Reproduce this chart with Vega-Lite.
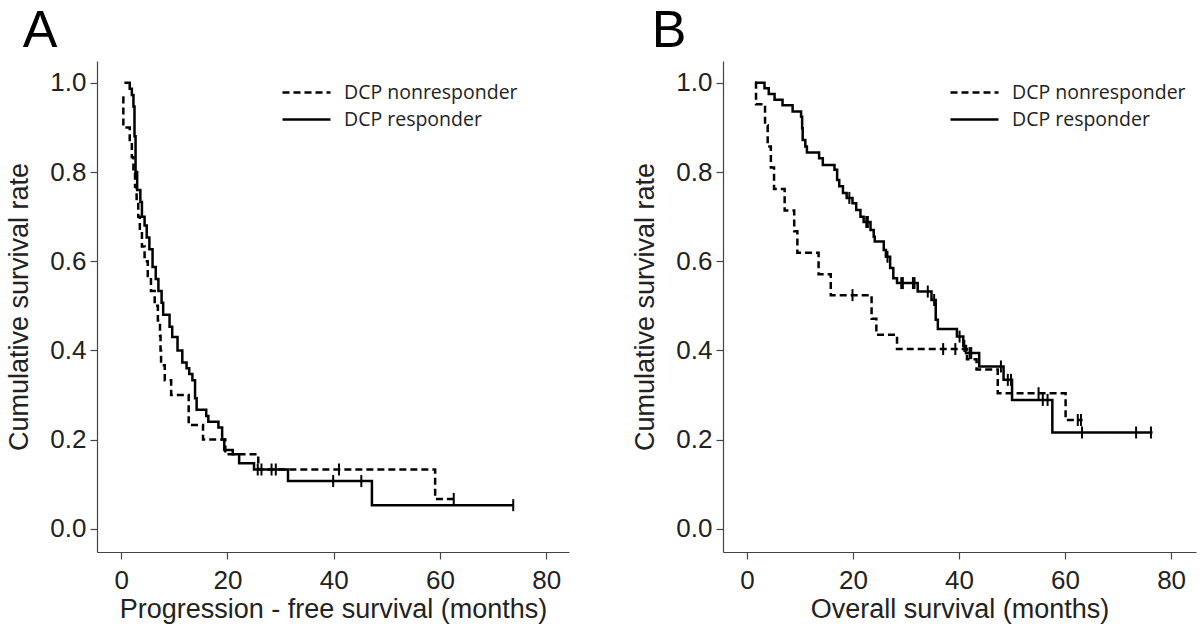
{
  "$schema": "https://vega.github.io/schema/vega-lite/v6.json",
  "background": "white",
  "padding": {"left": 5, "top": 5, "right": 5, "bottom": 5},
  "datasets": {
    "curves": [
      {"panel":"A","group":"DCP responder","t":0.6,"s":1.0},
      {"panel":"A","group":"DCP responder","t":1.6,"s":0.987},
      {"panel":"A","group":"DCP responder","t":2.0,"s":0.973},
      {"panel":"A","group":"DCP responder","t":2.3,"s":0.947},
      {"panel":"A","group":"DCP responder","t":2.5,"s":0.88},
      {"panel":"A","group":"DCP responder","t":2.7,"s":0.8},
      {"panel":"A","group":"DCP responder","t":3.0,"s":0.76},
      {"panel":"A","group":"DCP responder","t":3.6,"s":0.733},
      {"panel":"A","group":"DCP responder","t":3.9,"s":0.70},
      {"panel":"A","group":"DCP responder","t":4.4,"s":0.68},
      {"panel":"A","group":"DCP responder","t":4.8,"s":0.653},
      {"panel":"A","group":"DCP responder","t":5.3,"s":0.627},
      {"panel":"A","group":"DCP responder","t":5.9,"s":0.587},
      {"panel":"A","group":"DCP responder","t":6.5,"s":0.56},
      {"panel":"A","group":"DCP responder","t":7.0,"s":0.533},
      {"panel":"A","group":"DCP responder","t":7.6,"s":0.507},
      {"panel":"A","group":"DCP responder","t":7.9,"s":0.48},
      {"panel":"A","group":"DCP responder","t":9.1,"s":0.453},
      {"panel":"A","group":"DCP responder","t":9.6,"s":0.43},
      {"panel":"A","group":"DCP responder","t":10.6,"s":0.40},
      {"panel":"A","group":"DCP responder","t":11.5,"s":0.373},
      {"panel":"A","group":"DCP responder","t":12.3,"s":0.36},
      {"panel":"A","group":"DCP responder","t":12.8,"s":0.347},
      {"panel":"A","group":"DCP responder","t":13.4,"s":0.333},
      {"panel":"A","group":"DCP responder","t":13.9,"s":0.293},
      {"panel":"A","group":"DCP responder","t":14.2,"s":0.267},
      {"panel":"A","group":"DCP responder","t":16.0,"s":0.253},
      {"panel":"A","group":"DCP responder","t":16.4,"s":0.24},
      {"panel":"A","group":"DCP responder","t":18.3,"s":0.227},
      {"panel":"A","group":"DCP responder","t":19.0,"s":0.2},
      {"panel":"A","group":"DCP responder","t":19.4,"s":0.177},
      {"panel":"A","group":"DCP responder","t":21.0,"s":0.167},
      {"panel":"A","group":"DCP responder","t":22.2,"s":0.147},
      {"panel":"A","group":"DCP responder","t":25.0,"s":0.133},
      {"panel":"A","group":"DCP responder","t":31.4,"s":0.107},
      {"panel":"A","group":"DCP responder","t":47.2,"s":0.053},
      {"panel":"A","group":"DCP responder","t":73.8,"s":0.053},

      {"panel":"A","group":"DCP nonresponder","t":0.2,"s":0.967},
      {"panel":"A","group":"DCP nonresponder","t":0.4,"s":0.9},
      {"panel":"A","group":"DCP nonresponder","t":1.6,"s":0.867},
      {"panel":"A","group":"DCP nonresponder","t":2.0,"s":0.833},
      {"panel":"A","group":"DCP nonresponder","t":2.3,"s":0.8},
      {"panel":"A","group":"DCP nonresponder","t":2.6,"s":0.767},
      {"panel":"A","group":"DCP nonresponder","t":2.9,"s":0.733},
      {"panel":"A","group":"DCP nonresponder","t":3.2,"s":0.7},
      {"panel":"A","group":"DCP nonresponder","t":3.5,"s":0.667},
      {"panel":"A","group":"DCP nonresponder","t":3.9,"s":0.633},
      {"panel":"A","group":"DCP nonresponder","t":4.4,"s":0.6},
      {"panel":"A","group":"DCP nonresponder","t":5.0,"s":0.567},
      {"panel":"A","group":"DCP nonresponder","t":5.6,"s":0.533},
      {"panel":"A","group":"DCP nonresponder","t":6.3,"s":0.5},
      {"panel":"A","group":"DCP nonresponder","t":6.9,"s":0.467},
      {"panel":"A","group":"DCP nonresponder","t":7.3,"s":0.433},
      {"panel":"A","group":"DCP nonresponder","t":7.4,"s":0.4},
      {"panel":"A","group":"DCP nonresponder","t":7.5,"s":0.367},
      {"panel":"A","group":"DCP nonresponder","t":8.2,"s":0.333},
      {"panel":"A","group":"DCP nonresponder","t":9.4,"s":0.3},
      {"panel":"A","group":"DCP nonresponder","t":12.7,"s":0.233},
      {"panel":"A","group":"DCP nonresponder","t":15.4,"s":0.2},
      {"panel":"A","group":"DCP nonresponder","t":19.6,"s":0.167},
      {"panel":"A","group":"DCP nonresponder","t":25.8,"s":0.133},
      {"panel":"A","group":"DCP nonresponder","t":59.1,"s":0.067},
      {"panel":"A","group":"DCP nonresponder","t":62.6,"s":0.067},

      {"panel":"B","group":"DCP responder","t":1.5,"s":1.0},
      {"panel":"B","group":"DCP responder","t":3.3,"s":0.988},
      {"panel":"B","group":"DCP responder","t":4.1,"s":0.975},
      {"panel":"B","group":"DCP responder","t":5.2,"s":0.962},
      {"panel":"B","group":"DCP responder","t":6.7,"s":0.95},
      {"panel":"B","group":"DCP responder","t":8.6,"s":0.936},
      {"panel":"B","group":"DCP responder","t":10.2,"s":0.924},
      {"panel":"B","group":"DCP responder","t":10.4,"s":0.898},
      {"panel":"B","group":"DCP responder","t":10.5,"s":0.872},
      {"panel":"B","group":"DCP responder","t":11.0,"s":0.857},
      {"panel":"B","group":"DCP responder","t":11.3,"s":0.844},
      {"panel":"B","group":"DCP responder","t":13.6,"s":0.831},
      {"panel":"B","group":"DCP responder","t":14.3,"s":0.816},
      {"panel":"B","group":"DCP responder","t":16.5,"s":0.805},
      {"panel":"B","group":"DCP responder","t":17.0,"s":0.782},
      {"panel":"B","group":"DCP responder","t":17.4,"s":0.768},
      {"panel":"B","group":"DCP responder","t":18.1,"s":0.753},
      {"panel":"B","group":"DCP responder","t":18.8,"s":0.742},
      {"panel":"B","group":"DCP responder","t":19.9,"s":0.73},
      {"panel":"B","group":"DCP responder","t":20.6,"s":0.715},
      {"panel":"B","group":"DCP responder","t":21.4,"s":0.70},
      {"panel":"B","group":"DCP responder","t":22.0,"s":0.688},
      {"panel":"B","group":"DCP responder","t":23.3,"s":0.67},
      {"panel":"B","group":"DCP responder","t":23.9,"s":0.655},
      {"panel":"B","group":"DCP responder","t":24.1,"s":0.644},
      {"panel":"B","group":"DCP responder","t":25.8,"s":0.625},
      {"panel":"B","group":"DCP responder","t":26.2,"s":0.61},
      {"panel":"B","group":"DCP responder","t":27.0,"s":0.585},
      {"panel":"B","group":"DCP responder","t":27.6,"s":0.562},
      {"panel":"B","group":"DCP responder","t":28.3,"s":0.551},
      {"panel":"B","group":"DCP responder","t":32.2,"s":0.532},
      {"panel":"B","group":"DCP responder","t":34.8,"s":0.513},
      {"panel":"B","group":"DCP responder","t":35.6,"s":0.469},
      {"panel":"B","group":"DCP responder","t":36.0,"s":0.448},
      {"panel":"B","group":"DCP responder","t":39.6,"s":0.431},
      {"panel":"B","group":"DCP responder","t":40.8,"s":0.41},
      {"panel":"B","group":"DCP responder","t":41.3,"s":0.394},
      {"panel":"B","group":"DCP responder","t":43.8,"s":0.364},
      {"panel":"B","group":"DCP responder","t":48.4,"s":0.334},
      {"panel":"B","group":"DCP responder","t":50.0,"s":0.289},
      {"panel":"B","group":"DCP responder","t":57.6,"s":0.216},
      {"panel":"B","group":"DCP responder","t":76.5,"s":0.216},

      {"panel":"B","group":"DCP nonresponder","t":1.5,"s":1.0},
      {"panel":"B","group":"DCP nonresponder","t":1.7,"s":0.952},
      {"panel":"B","group":"DCP nonresponder","t":3.4,"s":0.905},
      {"panel":"B","group":"DCP nonresponder","t":3.9,"s":0.857},
      {"panel":"B","group":"DCP nonresponder","t":4.5,"s":0.81},
      {"panel":"B","group":"DCP nonresponder","t":5.1,"s":0.762},
      {"panel":"B","group":"DCP nonresponder","t":7.1,"s":0.714},
      {"panel":"B","group":"DCP nonresponder","t":8.9,"s":0.667},
      {"panel":"B","group":"DCP nonresponder","t":9.5,"s":0.619},
      {"panel":"B","group":"DCP nonresponder","t":13.5,"s":0.571},
      {"panel":"B","group":"DCP nonresponder","t":15.8,"s":0.524},
      {"panel":"B","group":"DCP nonresponder","t":23.5,"s":0.471},
      {"panel":"B","group":"DCP nonresponder","t":24.4,"s":0.435},
      {"panel":"B","group":"DCP nonresponder","t":28.3,"s":0.403},
      {"panel":"B","group":"DCP nonresponder","t":41.5,"s":0.38},
      {"panel":"B","group":"DCP nonresponder","t":43.3,"s":0.357},
      {"panel":"B","group":"DCP nonresponder","t":47.3,"s":0.304},
      {"panel":"B","group":"DCP nonresponder","t":60.1,"s":0.244},
      {"panel":"B","group":"DCP nonresponder","t":63.3,"s":0.244}
    ],
    "censors": [
      {"panel":"A","group":"DCP responder","t":25.7,"s":0.133},
      {"panel":"A","group":"DCP responder","t":26.4,"s":0.133},
      {"panel":"A","group":"DCP responder","t":28.3,"s":0.133},
      {"panel":"A","group":"DCP responder","t":29.1,"s":0.133},
      {"panel":"A","group":"DCP responder","t":39.9,"s":0.107},
      {"panel":"A","group":"DCP responder","t":45.2,"s":0.107},
      {"panel":"A","group":"DCP responder","t":73.8,"s":0.053},
      {"panel":"A","group":"DCP nonresponder","t":41.0,"s":0.133},
      {"panel":"A","group":"DCP nonresponder","t":62.6,"s":0.067},

      {"panel":"B","group":"DCP responder","t":19.3,"s":0.742},
      {"panel":"B","group":"DCP responder","t":22.5,"s":0.688},
      {"panel":"B","group":"DCP responder","t":22.8,"s":0.688},
      {"panel":"B","group":"DCP responder","t":26.5,"s":0.61},
      {"panel":"B","group":"DCP responder","t":29.1,"s":0.551},
      {"panel":"B","group":"DCP responder","t":29.4,"s":0.551},
      {"panel":"B","group":"DCP responder","t":31.3,"s":0.551},
      {"panel":"B","group":"DCP responder","t":31.6,"s":0.551},
      {"panel":"B","group":"DCP responder","t":34.1,"s":0.532},
      {"panel":"B","group":"DCP responder","t":35.3,"s":0.513},
      {"panel":"B","group":"DCP responder","t":40.1,"s":0.431},
      {"panel":"B","group":"DCP responder","t":41.0,"s":0.41},
      {"panel":"B","group":"DCP responder","t":42.0,"s":0.394},
      {"panel":"B","group":"DCP responder","t":42.3,"s":0.394},
      {"panel":"B","group":"DCP responder","t":47.9,"s":0.364},
      {"panel":"B","group":"DCP responder","t":49.2,"s":0.334},
      {"panel":"B","group":"DCP responder","t":49.8,"s":0.334},
      {"panel":"B","group":"DCP responder","t":55.8,"s":0.289},
      {"panel":"B","group":"DCP responder","t":56.7,"s":0.289},
      {"panel":"B","group":"DCP responder","t":63.2,"s":0.216},
      {"panel":"B","group":"DCP responder","t":73.4,"s":0.216},
      {"panel":"B","group":"DCP responder","t":76.2,"s":0.216},
      {"panel":"B","group":"DCP nonresponder","t":19.9,"s":0.524},
      {"panel":"B","group":"DCP nonresponder","t":37.0,"s":0.403},
      {"panel":"B","group":"DCP nonresponder","t":39.3,"s":0.403},
      {"panel":"B","group":"DCP nonresponder","t":55.0,"s":0.304},
      {"panel":"B","group":"DCP nonresponder","t":62.4,"s":0.244},
      {"panel":"B","group":"DCP nonresponder","t":63.0,"s":0.244}
    ]
  },
  "spacing": 62,
  "hconcat": [
    {
      "width": 472,
      "height": 491,
      "title": {"text": "A", "dx": 17},
      "layer": [
        {
          "data": {"name": "curves"},
          "transform": [{"filter": "datum.panel === 'A'"}],
          "mark": {"type": "line", "interpolate": "step-after", "strokeWidth": 2.5, "color": "black"},
          "encoding": {
            "x": {"field": "t", "type": "quantitative", "scale": {"domain": [-4.56, 84.3], "nice": false, "zero": false},
                  "axis": {"title": "Progression - free survival (months)", "values": [0, 20, 40, 60, 80]}},
            "y": {"field": "s", "type": "quantitative", "scale": {"domain": [-0.052, 1.049], "nice": false, "zero": false},
                  "axis": {"title": "Cumulative survival rate", "values": [0, 0.2, 0.4, 0.6, 0.8, 1.0], "format": ".1f"}},
            "strokeDash": {"field": "group", "type": "nominal",
                  "scale": {"domain": ["DCP nonresponder", "DCP responder"], "range": [[7, 4], [1, 0]]},
                  "legend": {"orient": "none", "legendX": 198, "legendY": 20}}
          }
        },
        {
          "data": {"name": "censors"},
          "transform": [{"filter": "datum.panel === 'A'"}],
          "mark": {"type": "tick", "orient": "vertical", "size": 12, "thickness": 2, "color": "black", "opacity": 1},
          "encoding": {
            "x": {"field": "t", "type": "quantitative"},
            "y": {"field": "s", "type": "quantitative"}
          }
        }
      ]
    },
    {
      "width": 473,
      "height": 491,
      "title": {"text": "B", "dx": 20},
      "layer": [
        {
          "data": {"name": "curves"},
          "transform": [{"filter": "datum.panel === 'B'"}],
          "mark": {"type": "line", "interpolate": "step-after", "strokeWidth": 2.5, "color": "black"},
          "encoding": {
            "x": {"field": "t", "type": "quantitative", "scale": {"domain": [-4.53, 84.7], "nice": false, "zero": false},
                  "axis": {"title": "Overall survival (months)", "values": [0, 20, 40, 60, 80]}},
            "y": {"field": "s", "type": "quantitative", "scale": {"domain": [-0.052, 1.049], "nice": false, "zero": false},
                  "axis": {"title": "Cumulative survival rate", "values": [0, 0.2, 0.4, 0.6, 0.8, 1.0], "format": ".1f"}},
            "strokeDash": {"field": "group", "type": "nominal",
                  "scale": {"domain": ["DCP nonresponder", "DCP responder"], "range": [[7, 4], [1, 0]]},
                  "legend": {"orient": "none", "legendX": 240, "legendY": 20}}
          }
        },
        {
          "data": {"name": "censors"},
          "transform": [{"filter": "datum.panel === 'B'"}],
          "mark": {"type": "tick", "orient": "vertical", "size": 12, "thickness": 2, "color": "black", "opacity": 1},
          "encoding": {
            "x": {"field": "t", "type": "quantitative"},
            "y": {"field": "s", "type": "quantitative"}
          }
        }
      ]
    }
  ],
  "resolve": {"legend": {"strokeDash": "independent"}, "scale": {"x": "independent", "strokeDash": "independent"}},
  "config": {
    "font": "Liberation Sans",
    "view": {"stroke": null},
    "axis": {
      "domainColor": "#444", "tickColor": "#444", "domainWidth": 1.2, "tickWidth": 1.2, "tickSize": 7,
      "labelFont": "Liberation Sans", "labelFontSize": 26, "labelColor": "#222", "labelFlush": false,
      "titleFont": "Liberation Sans", "titleFontSize": 27, "titleFontWeight": "normal", "titleColor": "#222",
      "grid": false
    },
    "axisY": {"titlePadding": 16, "labelPadding": 4},
    "axisX": {"titlePadding": 3, "labelPadding": 8},
    "legend": {
      "title": null, "symbolType": "M-2.4,0H2.4", "symbolSize": 400, "symbolStrokeWidth": 2.5,
      "symbolStrokeColor": "black", "labelOffset": 26, "labelFont": "Open Sans", "labelFontSize": 19.5,
      "labelColor": "#222", "rowPadding": 6, "labelLimit": 0
    },
    "title": {"fontSize": 52, "font": "Liberation Sans", "fontWeight": "normal", "anchor": "start", "frame": "bounds", "color": "black", "offset": 3}
  }
}
